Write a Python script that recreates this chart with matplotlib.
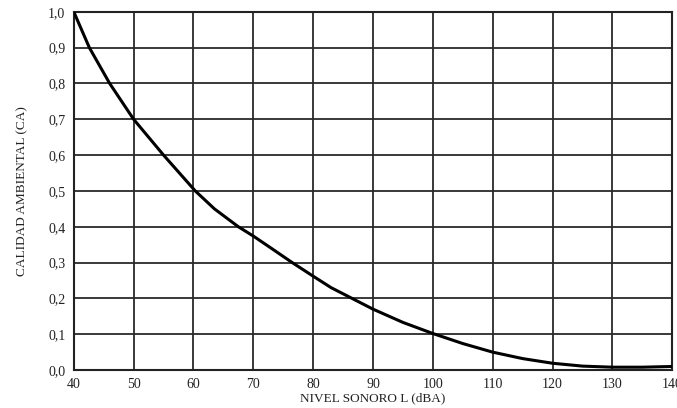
import matplotlib.pyplot as plt

# Curve
nivel = [40, 42.6, 46, 50, 55, 60.3, 63.5, 67.5, 70, 73, 76.5, 80, 83, 86.5, 90, 95, 100, 105, 110,
         115, 120, 125, 130, 135, 140]
calidad = [1.0, 0.9, 0.8, 0.7, 0.6, 0.5, 0.45, 0.4, 0.374, 0.34, 0.3, 0.262, 0.23, 0.2, 0.17, 0.133,
           0.102, 0.074, 0.05, 0.032, 0.019, 0.011, 0.008, 0.008, 0.01]

x_ticks = list(range(40, 141, 10))
y_ticks = [i / 10 for i in range(0, 11)]
y_labels = [f"{v:.1f}".replace(".", ",") for v in y_ticks]

plt.rcParams['font.family'] = ['Liberation Serif', 'DejaVu Serif']

fig = plt.figure(figsize=(6.77, 4.08), dpi=100)
ax = fig.add_axes([0.109, 0.093, 0.884, 0.878])

ax.plot(nivel, calidad, color='black', linewidth=2.2, solid_joinstyle='round',
        solid_capstyle='round', zorder=3)

ax.set_xlim(40, 140)
ax.set_ylim(0, 1.0)
ax.set_xticks(x_ticks)
ax.set_yticks(y_ticks)
ax.set_yticklabels(y_labels)
ax.tick_params(length=0, labelsize=10, pad=6, colors='#222222')
ax.grid(True, color='#2a2a2a', linewidth=1.3)
for s in ax.spines.values():
    s.set_color('#222222')
    s.set_linewidth(1.5)

ax.set_xlabel('NIVEL SONORO L (dBA)', fontsize=9.5, labelpad=1, color='#222222')
ax.set_ylabel('CALIDAD AMBIENTAL (CA)', fontsize=9.5, labelpad=14, color='#222222')

fig.savefig('out.png', dpi=100)
